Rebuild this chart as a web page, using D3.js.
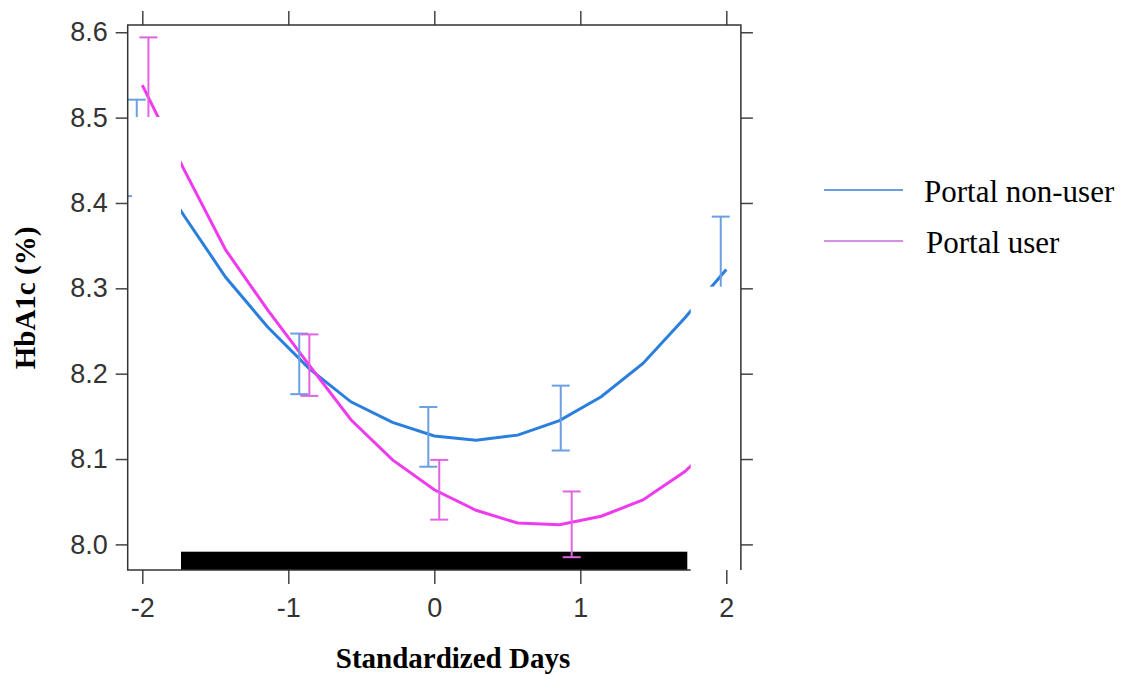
<!DOCTYPE html>
<html>
<head>
<meta charset="utf-8">
<script src="https://cdn.jsdelivr.net/npm/d3@7"></script>
<style>
	body { margin: 0; background: #fff; }
	svg { display: block; }
	.tick text { font-family: "Liberation Sans", Arial, sans-serif; font-size: 27px; fill: #333; }
	.tick line { stroke: #444; stroke-width: 1.5; }
</style>
</head>
<body>
<div id="chart"></div>
<script>
	// Grid of standardized days the fitted curves are drawn at
	var fitDays = [-2, -1.714, -1.429, -1.143, -0.857, -0.571, -0.286, 0, 0.286, 0.571, 0.857, 1.143, 1.429, 1.714, 2];
	var nonUserFit = [8.462, 8.385, 8.313, 8.255, 8.206, 8.167, 8.143, 8.127, 8.122, 8.128, 8.145, 8.173, 8.212, 8.265, 8.322];
	var userFit = [8.538, 8.439, 8.345, 8.275, 8.210, 8.146, 8.099, 8.064, 8.040, 8.025, 8.023, 8.033, 8.052, 8.085, 8.130];

	// Observed means with error bars
	var nonUserBarDays = [-2.038, -0.925, -0.041, 0.866, 1.962];
	var nonUserLow = [8.408, 8.176, 8.091, 8.110, 8.260];
	var nonUserHigh = [8.521, 8.247, 8.161, 8.186, 8.384];
	var userBarDays = [-1.958, -0.856, 0.034, 0.941];
	var userLow = [8.480, 8.174, 8.029, 7.985];
	var userHigh = [8.594, 8.246, 8.099, 8.062];

	var xTicks = [-2, -1, 0, 1, 2];
	var yTicks = [8.0, 8.1, 8.2, 8.3, 8.4, 8.5, 8.6];
	var seriesNames = ["Portal non-user", "Portal user"];

	var width = 1124,
		height = 675,
		blue = "#2b7fdc",
		blueBar = "#6a9fe2",
		pink = "#ee3bee",
		pinkBar = "#e263e2";

	var svg = d3.select("#chart").append("svg")
		.attr("width", width)
		.attr("height", height);

	svg.append("rect").attr("width", width).attr("height", height).attr("fill", "#fff");

	var x = d3.scaleLinear().domain([-2.1, 2.1]).range([127.7, 740.9]);
	var y = d3.scaleLinear().domain([7.97, 8.6085]).range([570, 25]);

	var panelLeft = x.range()[0], panelRight = x.range()[1],
		panelTop = y.range()[1], panelBottom = y.range()[0];

	/*
	 * Dark band along the bottom of the panel
	 */
	svg.append("rect")
		.attr("x", 181)
		.attr("y", 551.7)
		.attr("width", 687.3 - 181)
		.attr("height", panelBottom - 551.7)
		.attr("fill", "#000");

	/*
	 * Fitted curves
	 */
	var line = d3.line()
		.x(function(d) { return x(d[0]); })
		.y(function(d) { return y(d[1]); });

	svg.append("path")
		.datum(d3.zip(fitDays, nonUserFit))
		.attr("d", line)
		.attr("fill", "none")
		.attr("stroke", blue)
		.attr("stroke-width", 3);

	svg.append("path")
		.datum(d3.zip(fitDays, userFit))
		.attr("d", line)
		.attr("fill", "none")
		.attr("stroke", pink)
		.attr("stroke-width", 3);

	/*
	 * Error bars
	 */
	function errorBars(days, lo, hi, colour) {
		var g = svg.append("g")
			.attr("stroke", colour)
			.attr("stroke-width", 2)
			.attr("fill", "none");
		var bars = g.selectAll("g")
			.data(d3.zip(days, lo, hi))
			.enter().append("g");
		bars.append("line")
			.attr("x1", function(d) { return x(d[0]); })
			.attr("x2", function(d) { return x(d[0]); })
			.attr("y1", function(d) { return y(d[1]); })
			.attr("y2", function(d) { return y(d[2]); });
		bars.append("line")
			.attr("x1", function(d) { return x(d[0]) - 9; })
			.attr("x2", function(d) { return x(d[0]) + 9; })
			.attr("y1", function(d) { return y(d[1]); })
			.attr("y2", function(d) { return y(d[1]); });
		bars.append("line")
			.attr("x1", function(d) { return x(d[0]) - 9; })
			.attr("x2", function(d) { return x(d[0]) + 9; })
			.attr("y1", function(d) { return y(d[2]); })
			.attr("y2", function(d) { return y(d[2]); });
	}
	errorBars(nonUserBarDays, nonUserLow, nonUserHigh, blueBar);
	errorBars(userBarDays, userLow, userHigh, pinkBar);

	/*
	 * White patches over the panel, as in the source image
	 */
	svg.append("rect")
		.attr("x", 132).attr("y", 117)
		.attr("width", 181 - 132).attr("height", 568 - 117)
		.attr("fill", "#fff");
	svg.append("rect")
		.attr("x", 690.7).attr("y", 286.7)
		.attr("width", 739 - 690.7).attr("height", 573 - 286.7)
		.attr("fill", "#fff");

	/*
	 * Axes on all four sides
	 */
	svg.append("g")
		.attr("transform", "translate(" + panelLeft + ",0)")
		.call(d3.axisLeft(y).tickValues(yTicks).tickSize(12).tickSizeOuter(0).tickPadding(8)
			.tickFormat(d3.format(".1f")));
	svg.append("g")
		.attr("transform", "translate(" + panelRight + ",0)")
		.call(d3.axisRight(y).tickValues(yTicks).tickSize(12).tickSizeOuter(0).tickFormat(""));
	var axisBottom = svg.append("g")
		.attr("transform", "translate(0," + panelBottom + ")")
		.call(d3.axisBottom(x).tickValues(xTicks).tickSize(14).tickSizeOuter(0).tickPadding(14)
			.tickFormat(d3.format("d")));
	svg.append("g")
		.attr("transform", "translate(0," + panelTop + ")")
		.call(d3.axisTop(x).tickValues(xTicks).tickSize(14).tickSizeOuter(0).tickFormat(""));

	svg.selectAll(".domain").remove();
	axisBottom.selectAll("text").text(function(d) { return d < 0 ? "-" + Math.abs(d) : d; });

	// Panel frame, left open where the right patch sits
	svg.append("path")
		.attr("d", "M" + 690.7 + "," + panelBottom + "H" + panelLeft + "V" + panelTop +
			"H" + panelRight + "V" + panelBottom)
		.attr("fill", "none")
		.attr("stroke", "#333")
		.attr("stroke-width", 1.5);

	/*
	 * Axis titles
	 */
	svg.append("text")
		.attr("transform", "translate(35,298) rotate(-90)")
		.attr("text-anchor", "middle")
		.style("font-family", "'Liberation Serif', 'Times New Roman', serif")
		.style("font-weight", "bold")
		.style("font-size", "29px")
		.text("HbA1c (%)");

	svg.append("text")
		.attr("x", 453)
		.attr("y", 668)
		.attr("text-anchor", "middle")
		.style("font-family", "'Liberation Serif', 'Times New Roman', serif")
		.style("font-weight", "bold")
		.style("font-size", "29px")
		.text("Standardized Days");

	/*
	 * Legend
	 */
	var legendColours = ["#6b9fe4", "#c86ad8"];
	var legend = svg.selectAll(".legend")
		.data(seriesNames)
		.enter().append("g")
		.attr("class", "legend")
		.attr("transform", function(d, i) { return "translate(0," + (190 + i * 51) + ")"; });

	legend.append("line")
		.attr("x1", 824).attr("x2", 903)
		.attr("y1", 0).attr("y2", 0)
		.attr("stroke", function(d, i) { return legendColours[i]; })
		.attr("stroke-width", function(d, i) { return i == 0 ? 2 : 1.5; });

	legend.append("text")
		.attr("x", function(d, i) { return i == 0 ? 924 : 926; })
		.attr("y", 11.5)
		.style("font-family", "'Liberation Serif', 'Times New Roman', serif")
		.style("font-size", "31px")
		.style("fill", "#000")
		.text(function(d) { return d; });
</script>
</body>
</html>
